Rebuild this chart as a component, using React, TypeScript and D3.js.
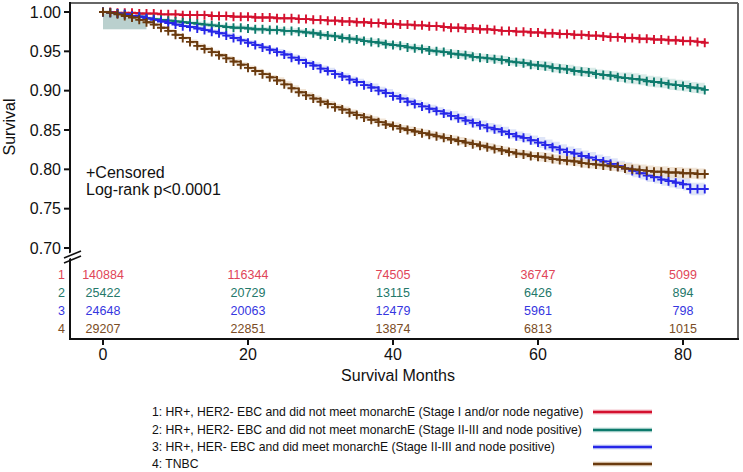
import * as d3 from "d3";

// Survival estimates, one per month (0..83)
const red = [
  1.0, 1.0, 0.999, 0.999, 0.999, 0.998, 0.998, 0.998, 0.997, 0.997, 0.997, 0.996,
  0.996, 0.996, 0.996, 0.995, 0.995, 0.995, 0.994, 0.994, 0.994, 0.993, 0.993, 0.993,
  0.992, 0.992, 0.992, 0.991, 0.991, 0.99, 0.99, 0.989, 0.989, 0.988, 0.988, 0.987,
  0.987, 0.986, 0.986, 0.985, 0.985, 0.984, 0.984, 0.983, 0.983, 0.982, 0.982, 0.981,
  0.98, 0.98, 0.979, 0.979, 0.978, 0.978, 0.977, 0.976, 0.976, 0.975, 0.975, 0.974,
  0.974, 0.973, 0.973, 0.972, 0.972, 0.971, 0.971, 0.97, 0.97, 0.969, 0.968, 0.968,
  0.967, 0.967, 0.966, 0.966, 0.965, 0.965, 0.964, 0.964, 0.963, 0.963, 0.962, 0.961,
];
const green = [
  1.0, 0.999, 0.998, 0.997, 0.995, 0.994, 0.992, 0.991, 0.99, 0.989, 0.988, 0.987,
  0.986, 0.985, 0.984, 0.983, 0.982, 0.981, 0.98, 0.98, 0.979, 0.978, 0.978, 0.977,
  0.977, 0.976, 0.976, 0.975, 0.974, 0.973, 0.971, 0.97, 0.969, 0.967, 0.966, 0.965,
  0.963, 0.962, 0.961, 0.959, 0.958, 0.957, 0.955, 0.954, 0.953, 0.951, 0.95, 0.949,
  0.947, 0.946, 0.945, 0.943, 0.942, 0.941, 0.94, 0.939, 0.937, 0.936, 0.935, 0.933,
  0.932, 0.931, 0.929, 0.928, 0.927, 0.925, 0.924, 0.923, 0.921, 0.92, 0.919, 0.917,
  0.916, 0.915, 0.914, 0.912, 0.911, 0.91, 0.908, 0.907, 0.906, 0.904, 0.903, 0.901,
];
const blue = [
  1.0, 0.999, 0.998, 0.997, 0.995, 0.994, 0.992, 0.99, 0.988, 0.986, 0.984, 0.982,
  0.981, 0.979, 0.977, 0.975, 0.973, 0.97, 0.967, 0.964, 0.961, 0.958, 0.955, 0.952,
  0.949, 0.946, 0.942, 0.939, 0.935, 0.932, 0.928, 0.925, 0.921, 0.918, 0.914, 0.911,
  0.907, 0.904, 0.9, 0.897, 0.893, 0.89, 0.886, 0.883, 0.88, 0.877, 0.874, 0.871,
  0.868, 0.865, 0.862, 0.859, 0.856, 0.853, 0.851, 0.848, 0.845, 0.842, 0.84, 0.837,
  0.834, 0.831, 0.828, 0.825, 0.822, 0.82, 0.817, 0.815, 0.812, 0.81, 0.807, 0.804,
  0.801, 0.798, 0.795, 0.792, 0.79, 0.787, 0.785, 0.783, 0.781, 0.775, 0.775, 0.775,
];
const brown = [
  1.0, 0.999, 0.997, 0.995, 0.993, 0.99, 0.987, 0.984, 0.98, 0.976, 0.971, 0.967,
  0.962, 0.957, 0.953, 0.949, 0.945, 0.941, 0.937, 0.933, 0.929, 0.925, 0.921, 0.917,
  0.913, 0.908, 0.903, 0.898, 0.894, 0.89, 0.886, 0.883, 0.879, 0.876, 0.872, 0.869,
  0.866, 0.863, 0.86, 0.857, 0.855, 0.852, 0.85, 0.848, 0.846, 0.844, 0.842, 0.84,
  0.838, 0.836, 0.834, 0.832, 0.83, 0.828, 0.826, 0.824, 0.822, 0.82, 0.819, 0.817,
  0.816, 0.815, 0.813, 0.812, 0.811, 0.81, 0.808, 0.807, 0.806, 0.805, 0.804, 0.803,
  0.801, 0.8, 0.799, 0.798, 0.797, 0.797, 0.796, 0.796, 0.795, 0.795, 0.794, 0.794,
];

// confidence band half-widths, one per 12-month block
const redCi = [0.001, 0.001, 0.001, 0.0012, 0.0015, 0.0015, 0.002];
const greenCi = [0.002, 0.003, 0.0035, 0.004, 0.005, 0.006, 0.007];
const blueCi = [0.002, 0.003, 0.004, 0.005, 0.006, 0.007, 0.008];
const brownCi = [0.002, 0.003, 0.004, 0.0045, 0.005, 0.006, 0.007];
// the wide early band of group 2
const greenEarlyLow = 0.978;
const greenEarlyEnd = 6;

const riskMonths = [0, 20, 40, 60, 80];
const riskRed = [140884, 116344, 74505, 36747, 5099];
const riskGreen = [25422, 20729, 13115, 6426, 894];
const riskBlue = [24648, 20063, 12479, 5961, 798];
const riskBrown = [29207, 22851, 13874, 6813, 1015];

const yTicks = [1.0, 0.95, 0.9, 0.85, 0.8, 0.75, 0.7];
const xTicks = [0, 20, 40, 60, 80];

const legendLabels = [
  "1: HR+, HER2- EBC and did not meet monarchE (Stage I and/or node negative)",
  "2: HR+, HER2- EBC and did not meet monarchE (Stage II-III and node positive)",
  "3: HR+, HER- EBC and did meet monarchE (Stage II-III and node positive)",
  "4: TNBC",
];

const groups = [
  { id: "1", values: red, ci: redCi, risk: riskRed, line: "#d4102e", band: "#f4c4cc", text: "#e04558" },
  { id: "2", values: green, ci: greenCi, risk: riskGreen, line: "#0d7a6c", band: "#cde6e2", text: "#24786a" },
  { id: "3", values: blue, ci: blueCi, risk: riskBlue, line: "#2626e8", band: "#d4dcf6", text: "#3636e0" },
  { id: "4", values: brown, ci: brownCi, risk: riskBrown, line: "#6a3a0e", band: "#ecdcca", text: "#7a4c24" },
];

const W = 743;
const H = 472;
const left = 70;
const right = 738;
const top = 3;
const bottom = 339;
const font = "'Liberation Sans', Arial, sans-serif";

export default function App() {
  const x = d3.scaleLinear().domain([0, 80]).range([103, 683]);
  const y = d3.scaleLinear().domain([0.7, 1.0]).range([248, 12]);

  const line = d3
    .line<number>()
    .x((_, i) => x(i))
    .y((d) => y(d))
    .curve(d3.curveStepAfter);

  const bandFor = (ci: number[]) =>
    d3
      .area<number>()
      .x((_, i) => x(i))
      .y0((d, i) => y(d - ci[Math.floor(i / 12)]))
      .y1((d, i) => y(d + ci[Math.floor(i / 12)]))
      .curve(d3.curveStepAfter);

  const riskRows = [279, 297, 315, 333];
  const legendRows = [411, 429, 446, 463];

  return (
    <svg
      width={W}
      height={H}
      style={{ position: "absolute", left: 0, top: 0, background: "#fff" }}
      fontFamily={font}
    >
      {/* frame */}
      <line x1={left} x2={right} y1={top} y2={top} stroke="#666" strokeWidth={2} />
      <line x1={right} x2={right} y1={top} y2={bottom} stroke="#666" strokeWidth={2} />

      {/* confidence bands */}
      <rect
        x={x(0)}
        width={x(greenEarlyEnd) - x(0)}
        y={y(1.0)}
        height={y(greenEarlyLow) - y(1.0)}
        fill="#b3cbc9"
        opacity={0.9}
      />
      {groups.map((g) => (
        <path key={"b" + g.id} d={bandFor(g.ci)(g.values) ?? ""} fill={g.band} opacity={0.75} />
      ))}

      {/* curves and censor marks */}
      {groups.map((g) => (
        <g key={"c" + g.id} stroke={g.line} fill="none">
          <path d={line(g.values) ?? ""} strokeWidth={1.8} />
          {g.values.map((v, i) => (
            <path
              key={i}
              d={`M${x(i) - 4},${y(v)}h8M${x(i)},${y(v) - 4.5}v9`}
              strokeWidth={1.9}
            />
          ))}
        </g>
      ))}

      {/* axes */}
      <line x1={left} x2={left} y1={top - 1} y2={bottom + 1} stroke="#111" strokeWidth={2} />
      <line x1={left - 1} x2={right + 1} y1={bottom} y2={bottom} stroke="#111" strokeWidth={2} />
      {yTicks.map((t) => (
        <g key={t}>
          <line x1={left - 6} x2={left} y1={y(t)} y2={y(t)} stroke="#111" strokeWidth={2} />
          <text x={left - 9} y={y(t) + 5.5} textAnchor="end" fontSize={16} fill="#111">
            {t.toFixed(2)}
          </text>
        </g>
      ))}
      {/* axis break */}
      <rect x={left - 4} y={253} width={10} height={5} fill="#fff" transform={`rotate(-25 ${left} 255)`} />
      <line x1={left - 6} x2={left + 11} y1={258} y2={251} stroke="#111" strokeWidth={1.6} />
      <line x1={left - 6} x2={left + 11} y1={263} y2={256} stroke="#111" strokeWidth={1.6} />

      {xTicks.map((t) => (
        <g key={t}>
          <line x1={x(t)} x2={x(t)} y1={bottom} y2={bottom + 6} stroke="#111" strokeWidth={2} />
          <text x={x(t)} y={360} textAnchor="middle" fontSize={16} fill="#111">
            {t}
          </text>
        </g>
      ))}
      <text x={398} y={381} textAnchor="middle" fontSize={16} fill="#111">
        Survival Months
      </text>
      <text
        transform={`translate(15,127) rotate(-90)`}
        textAnchor="middle"
        fontSize={16}
        fill="#111"
      >
        Survival
      </text>

      <text x={86} y={178} fontSize={16} fill="#111">
        +Censored
      </text>
      <text x={86} y={195} fontSize={16} fill="#111">
        Log-rank p&lt;0.0001
      </text>

      {/* numbers at risk */}
      {groups.map((g, gi) => (
        <g key={"r" + g.id} fill={g.text} fontSize={12.5}>
          <text x={65} y={riskRows[gi]} textAnchor="end">
            {g.id}
          </text>
          {g.risk.map((n, i) => (
            <text key={i} x={x(riskMonths[i])} y={riskRows[gi]} textAnchor="middle">
              {n}
            </text>
          ))}
        </g>
      ))}

      {/* legend */}
      {groups.map((g, gi) => (
        <g key={"l" + g.id}>
          <text x={152} y={legendRows[gi] + 4.5} fontSize={12.2} fill="#111">
            {legendLabels[gi]}
          </text>
          <line x1={593} x2={652} y1={legendRows[gi] + 1} y2={legendRows[gi] + 1} stroke={g.band} strokeWidth={5} />
          <line x1={593} x2={652} y1={legendRows[gi] + 1} y2={legendRows[gi] + 1} stroke={g.line} strokeWidth={2.5} />
        </g>
      ))}
    </svg>
  );
}
